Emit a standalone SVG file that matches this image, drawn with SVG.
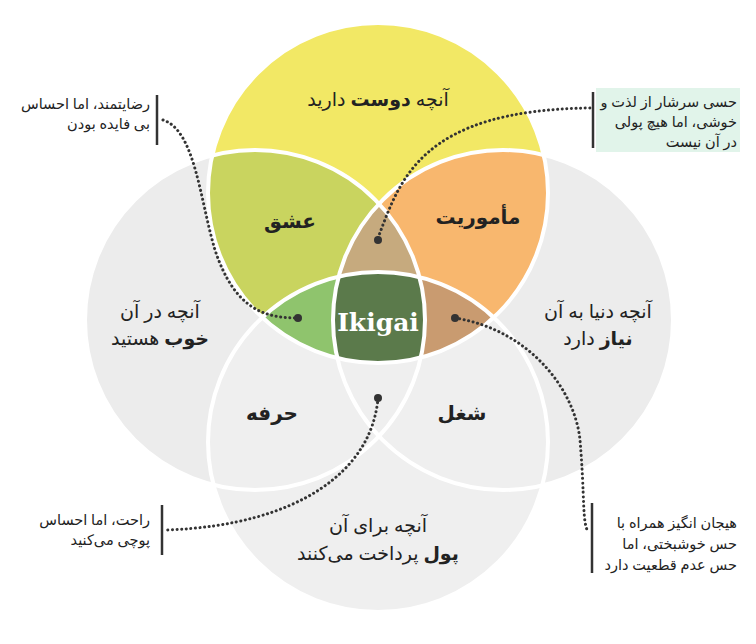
<svg xmlns="http://www.w3.org/2000/svg" width="756" height="644" viewBox="0 0 756 644">
<style>
.t{font-family:"Noto Sans","DejaVu Sans",sans-serif;fill:#222;direction:rtl}
.big{font-size:19px;text-anchor:middle}
.lab{font-size:20px;font-weight:bold;text-anchor:middle}
.note{font-size:14.5px;text-anchor:start}
.dot{fill:none;stroke:#333;stroke-width:3;stroke-dasharray:0.1 4.5;stroke-linecap:round}
.bar{stroke:#333;stroke-width:2.5}
.ring{fill:none;stroke:#fff;stroke-width:4}
</style>
<defs>
<clipPath id="cT"><circle cx="378" cy="193" r="170"/></clipPath>
<clipPath id="cL"><circle cx="255" cy="320" r="170"/></clipPath>
<clipPath id="cR"><circle cx="503" cy="320" r="170"/></clipPath>
<clipPath id="cB"><circle cx="378" cy="442" r="170"/></clipPath>
</defs>
<rect width="756" height="644" fill="#fff"/>
<g id="circles">
<circle cx="255" cy="320" r="170" fill="#ececec"/>
<circle cx="503" cy="320" r="170" fill="#ececec"/>
<circle cx="378" cy="442" r="170" fill="#efefef"/>
<circle cx="378" cy="193" r="170" fill="#f2e865"/>
<g clip-path="url(#cT)">
<circle cx="255" cy="320" r="170" fill="#c9d45f"/>
<circle cx="503" cy="320" r="170" fill="#f8b76e"/>
<g clip-path="url(#cL)"><circle cx="503" cy="320" r="170" fill="#c6aa7e"/></g>
<g clip-path="url(#cB)">
<circle cx="255" cy="320" r="170" fill="#8fc46d"/>
<circle cx="503" cy="320" r="170" fill="#c99b70"/>
<g clip-path="url(#cL)"><circle cx="503" cy="320" r="170" fill="#5b7a4b"/></g>
</g>
</g>
<circle class="ring" cx="255" cy="320" r="170"/>
<circle class="ring" cx="503" cy="320" r="170"/>
<circle class="ring" cx="378" cy="442" r="170"/>
<circle class="ring" cx="378" cy="193" r="170"/>
</g>
<g id="labels">
<text class="t big" x="378" y="106">آنچه <tspan font-weight="bold">دوست</tspan> دارید</text>
<text class="t big" x="160" y="318">آنچه در آن</text>
<text class="t big" x="160" y="345"><tspan font-weight="bold">خوب</tspan> هستید</text>
<text class="t big" x="598" y="318">آنچه دنیا به آن</text>
<text class="t big" x="598" y="345"><tspan font-weight="bold">نیاز</tspan> دارد</text>
<text class="t big" x="378" y="532">آنچه برای آن</text>
<text class="t big" x="378" y="560"><tspan font-weight="bold">پول</tspan> پرداخت می‌کنند</text>
<text class="t lab" x="290" y="228">عشق</text>
<text class="t lab" x="478" y="224">مأموریت</text>
<text class="t lab" x="272" y="420">حرفه</text>
<text class="t lab" x="462" y="420">شغل</text>
<text x="378" y="331" text-anchor="middle" font-family="'DejaVu Serif',serif" font-weight="bold" font-size="25" fill="#fff">Ikigai</text>
</g>
<g id="callouts">
<rect x="596" y="88" width="144" height="64" fill="#e1f4ea"/>
<line class="bar" x1="157" y1="95" x2="157" y2="145"/>
<line class="bar" x1="593" y1="92" x2="593" y2="148"/>
<line class="bar" x1="592" y1="503" x2="592" y2="573"/>
<line class="bar" x1="162" y1="505" x2="162" y2="555"/>
<text class="t note" x="150" y="109">رضایتمند، اما احساس</text>
<text class="t note" x="150" y="129">بی فایده بودن</text>
<text class="t note" x="737" y="107">حسی سرشار از لذت و</text>
<text class="t note" x="737" y="127">خوشی، اما هیچ پولی</text>
<text class="t note" x="737" y="147">در آن نیست</text>
<text class="t note" x="737" y="528">هیجان انگیز همراه با</text>
<text class="t note" x="737" y="549">حس خوشبختی، اما</text>
<text class="t note" x="737" y="570">حس عدم قطعیت دارد</text>
<text class="t note" x="150" y="525">راحت، اما احساس</text>
<text class="t note" x="150" y="545">پوچی می‌کنید</text>
</g>
<g id="connectors">
<path class="dot" d="M163,120 C195,130 200,200 215,250 C235,310 265,318 298,318"/>
<path class="dot" d="M378,238 C400,180 420,110 590,108"/>
<path class="dot" d="M455,318 C530,330 575,390 580,440 C585,500 582,520 588,532"/>
<path class="dot" d="M378,398 C372,470 300,525 167,530"/>
<circle cx="298" cy="318" r="4" fill="#333"/>
<circle cx="378" cy="240" r="4" fill="#333"/>
<circle cx="455" cy="318" r="4" fill="#333"/>
<circle cx="378" cy="398" r="4" fill="#333"/>
</g>
</svg>
